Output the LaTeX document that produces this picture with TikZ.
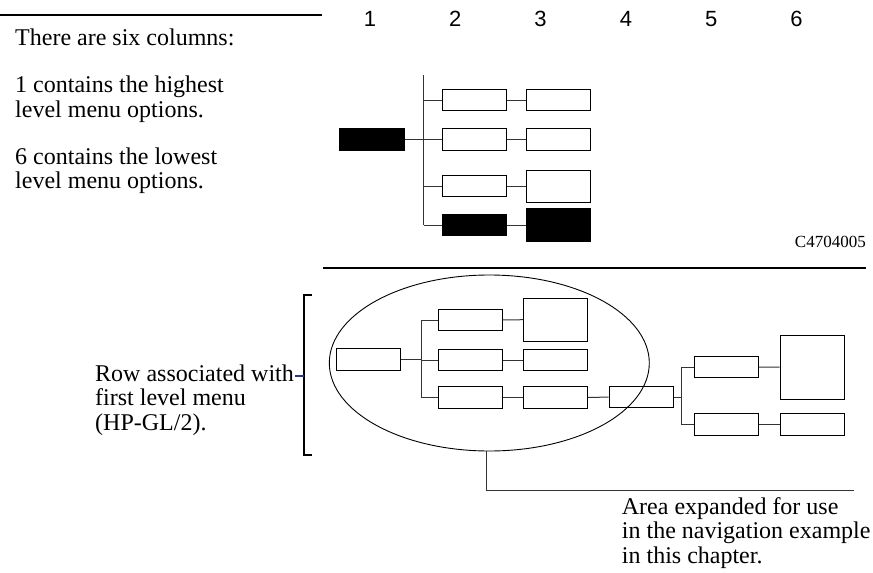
\documentclass[tikz,border=0pt]{standalone}
\usepackage{fontspec}
\setmainfont{Liberation Serif}
\setsansfont{Liberation Sans}
\usetikzlibrary{shapes.geometric}

\definecolor{tickblue}{RGB}{40,55,140}

\tikzset{
  menubox/.style={draw, line width=1pt, minimum width=64pt, minimum height=21.5pt, inner sep=0pt},
  selbox/.style={menubox, fill=black},
  link/.style={line width=1pt, black!80},
  note/.style={font=\fontsize{24}{24.3}\selectfont, align=left, inner sep=0pt, anchor=base west},
  colnum/.style={font=\sffamily\fontsize{22}{22}\selectfont, inner sep=0pt, anchor=base}
}

\begin{document}
\begin{tikzpicture}[x=1pt,y=-1pt]
\useasboundingbox (0,0) rectangle (873,573);

% heading rule and notes (multi-line notes sit on their last baseline)
\draw[line width=1.5pt] (0,15) -- (322,15);
\node[note] (cols) at (15,45) {There are six columns:};
\node[note] (high) at (15,117) {1 contains the highest\\level menu options.};
\node[note] (low) at (15,188.5) {6 contains the lowest\\level menu options.};

% column numbers
\foreach \n in {1,...,6}
  \node[colnum] (c\n) at ({370+85.3*(\n-1)},26) {\n};

% upper tree
\node[selbox, minimum width=65pt] (ta) at (372,139.5) {};
\coordinate (ttop) at (423.5,75);
\coordinate (tbot) at (423.5,225);
\node[menubox] (tb1) at (474.5,100) {};
\node[menubox] (tb2) at (474.5,139.5) {};
\node[menubox] (tb3) at (474.5,186) {};
\node[selbox] (tb4) at (474.5,225) {};
\node[menubox] (tc1) at (558.7,100) {};
\node[menubox] (tc2) at (558.7,139.5) {};
\node[menubox, minimum height=32pt] (tc3) at (558.7,186) {};
\node[selbox, minimum height=33pt] (tc4) at (558.7,225) {};
\draw[link] (ttop) -- (tbot);
\draw[link] (ta.east) -- (ta.east -| ttop);
\foreach \r in {1,...,4} {
  \draw[link] (tb\r.west -| ttop) -- (tb\r.west);
  \draw[link] (tb\r.east) -- (tc\r.west);
}
\node[font=\fontsize{17}{17}\selectfont, inner sep=0pt, anchor=base east] (fig) at (866,247) {C4704005};

% separator
\draw[line width=1.7pt] (323,268) -- (866,268);

% lower tree
\node[draw, ellipse, line width=0.9pt, minimum width=320pt, minimum height=176pt, inner sep=0pt] (area) at (489.3,363) {};
\node[menubox] (ba) at (368.7,359.7) {};
\coordinate (btop) at (421.3,320);
\coordinate (bbot) at (421.3,397.3);
\node[menubox] (bb1) at (470,320) {};
\node[menubox] (bb2) at (470,360) {};
\node[menubox] (bb3) at (470,397.3) {};
\node[menubox, minimum height=42.7pt] (bc1) at (555.5,319.7) {};
\node[menubox] (bc2) at (555.5,360) {};
\node[menubox] (bc3) at (555.5,397.3) {};
\node[menubox] (bd) at (641,397.2) {};
\coordinate (dtop) at (681.7,367);
\coordinate (dbot) at (681.7,424.7);
\node[menubox] (be1) at (726.3,367) {};
\node[menubox] (be2) at (726.3,424.7) {};
\node[menubox, minimum height=64.3pt] (bf1) at (812,367.2) {};
\node[menubox] (bf2) at (812,424.7) {};
\draw[link] (btop) -- (bbot);
\draw[link] (ba.east) -- (ba.east -| btop);
\foreach \r in {1,2,3} {
  \draw[link] (bb\r.west -| btop) -- (bb\r.west);
  \draw[link] (bb\r.east) -- (bc\r.west);
}
\draw[link] (bc3.east) -- (bd.west);
\draw[link] (bd.east) -- (bd.east -| dtop);
\draw[link] (dtop) -- (dbot);
\foreach \r in {1,2} {
  \draw[link] (be\r.west -| dtop) -- (be\r.west);
  \draw[link] (be\r.east) -- (bf\r.west);
}

% bracket with its note
\draw[line width=2pt] (312,295) -- (304,295) -- (304,455) -- (312,455);
\coordinate (tickend) at (304,375.5);
\draw[line width=2pt, tickblue] (295,375.5) -- (tickend);
\node[note] (row) at (95,430) {Row associated with\\first level menu\\(HP-GL/2).};

% leader to the expanded area
\coordinate (leadend) at (854,490);
\draw[link] ([xshift=-3pt]area.south) |- (leadend);
\node[note] (areanote) at (621.7,563) {Area expanded for use\\in the navigation example\\in this chapter.};
\end{tikzpicture}
\end{document}
